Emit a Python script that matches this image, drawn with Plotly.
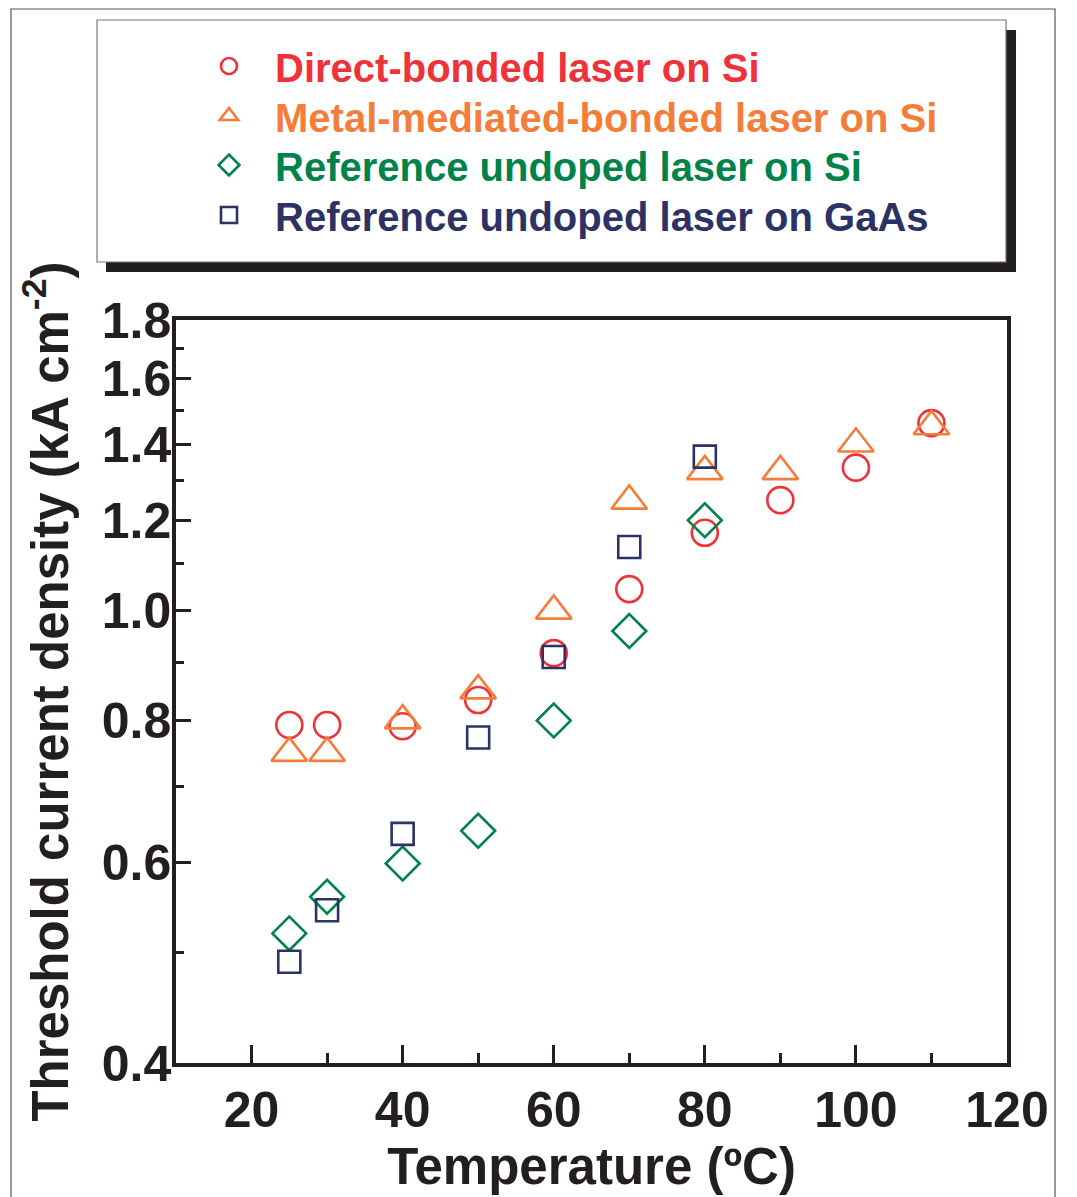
import math
import plotly.graph_objects as go

# ---------------- data ----------------
temp_direct = [25, 30, 40, 50, 60, 70, 80, 90, 100, 110]
jth_direct = [0.793, 0.793, 0.791, 0.834, 0.917, 1.044, 1.170, 1.250, 1.335, 1.461]

temp_metal = [25, 30, 40, 50, 60, 70, 80, 90, 100, 110]
jth_metal = [0.749, 0.749, 0.800, 0.850, 0.999, 1.248, 1.325, 1.325, 1.401, 1.451]

temp_ref_si = [25, 30, 40, 50, 60, 70, 80]
jth_ref_si = [0.520, 0.560, 0.599, 0.640, 0.800, 0.959, 1.200]

temp_ref_gaas = [25, 30, 40, 50, 60, 70, 80]
jth_ref_gaas = [0.491, 0.545, 0.636, 0.773, 0.910, 1.137, 1.365]

names = ["Direct-bonded laser on Si",
         "Metal-mediated-bonded laser on Si",
         "Reference undoped laser on Si",
         "Reference undoped laser on GaAs"]

x_ticks = [20, 40, 60, 80, 100, 120]
x_minor = [30, 50, 70, 90, 110]
y_ticks = [0.4, 0.6, 0.8, 1.0, 1.2, 1.4, 1.6, 1.8]
y_ticktext = ["0.4", "0.6", "0.8", "1.0", "1.2", "1.4", "1.6", "1.8"]
y_minor = [0.5, 0.7, 0.9, 1.1, 1.3, 1.5, 1.7]

# ---------------- style ----------------
RED = "#EE3238"
ORANGE = "#F47D3A"
GREEN = "#00834A"
NAVY = "#2D3266"
INK = "#231F20"
FONT = "Liberation Sans"

OFF = 8  # page body margin
W, H = 1077 - OFF, 1197 - OFF
# target page coordinates -> figure coordinates
L, R, T, B = 176 - OFF, 1007 - OFF, 320 - OFF, 1063 - OFF


def px(x_page):
    return (x_page - OFF - L) / (R - L)


def py(y_page):
    return (B - (y_page - OFF)) / (B - T)


fig = go.Figure()

legend_ids = ["legend", "legend2", "legend3", "legend4"]
legend_rows = [66, 116, 165, 215]  # page y of legend row centres

series = [
    (temp_direct, jth_direct, names[0], RED, "circle-open", 26),
    (temp_metal, jth_metal, names[1], ORANGE, "triangle-up-open", 31),
    (temp_ref_si, jth_ref_si, names[2], GREEN, "diamond-open", 26),
    (temp_ref_gaas, jth_ref_gaas, names[3], NAVY, "square-open", 22),
]
for (xs, ys, nm, col, sym, sz), lid in zip(series, legend_ids):
    fig.add_trace(go.Scatter(
        x=xs, y=ys, mode="markers",
        name=f"<span style='color:{col}'>{nm}</span>",
        legend=lid,
        marker=dict(symbol=sym, size=sz, color=col,
                    line=dict(color=col, width=2.6)),
    ))

shapes = [
    # outer frame
    dict(type="rect", xref="paper", yref="paper",
         x0=px(11), x1=px(1055), y0=py(1215), y1=py(9),
         line=dict(color="#555555", width=1.2), fillcolor="rgba(0,0,0,0)",
         layer="below"),
    # legend shadow
    dict(type="rect", xref="paper", yref="paper",
         x0=px(106), x1=px(1016), y0=py(272), y1=py(30),
         line=dict(width=0), fillcolor=INK, layer="above"),
    # legend box
    dict(type="rect", xref="paper", yref="paper",
         x0=px(97), x1=px(1006), y0=py(262), y1=py(20),
         line=dict(color="#777777", width=1.2), fillcolor="white",
         layer="above"),
]

axis_common = dict(
    showline=True, linecolor=INK, linewidth=3.5, mirror=True,
    ticks="inside", tickcolor=INK, tickwidth=3,
    showgrid=False, zeroline=False,
    tickfont=dict(family=FONT, size=50, color=INK, weight="bold"),
)

legend_style = dict(
    x=px(183), xanchor="left", yanchor="middle",
    bgcolor="rgba(0,0,0,0)", borderwidth=0,
    font=dict(family=FONT, size=40, color=INK, weight="bold"),
    itemsizing="trace", itemwidth=82,
)

layout_legends = {}
for lid, row in zip(legend_ids, legend_rows):
    layout_legends[lid] = dict(y=py(row), **legend_style)

fig.update_layout(
    width=W, height=H,
    paper_bgcolor="white", plot_bgcolor="white",
    margin=dict(l=L, r=W - R, t=T, b=H - B, autoexpand=False),
    showlegend=True,
    shapes=shapes,
    xaxis=dict(
        range=[10, 120], tickvals=x_ticks, ticklen=18,
        minor=dict(tickvals=x_minor, ticks="inside", ticklen=10,
                   tickwidth=3, tickcolor=INK, showgrid=False),
        title=dict(text="Temperature (ºC)",
                   font=dict(family=FONT, size=51, color=INK, weight="bold"),
                   standoff=5),
        **axis_common,
    ),
    yaxis=dict(
        type="log", range=[math.log10(0.4), math.log10(1.8)],
        tickvals=y_ticks, ticktext=y_ticktext, ticklen=15,
        minor=dict(tickvals=y_minor, ticks="inside", ticklen=8,
                   tickwidth=3, tickcolor=INK, showgrid=False),
        ticklabelstandoff=-9,
        title=dict(text="Threshold current density (kA cm<sup>-2</sup>)",
                   font=dict(family=FONT, size=51, color=INK, weight="bold"),
                   standoff=18),
        **axis_common,
    ),
    **layout_legends,
)

fig.write_html("out.html")
